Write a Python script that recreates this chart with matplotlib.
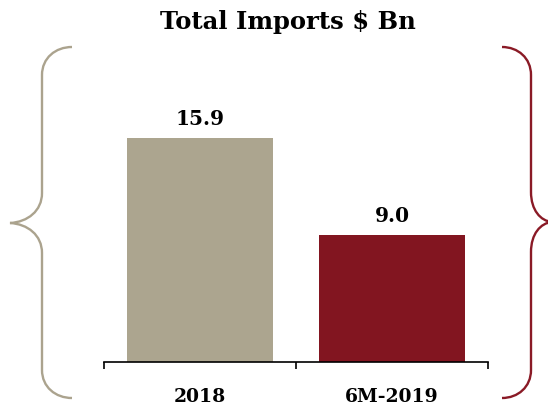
import matplotlib
matplotlib.use("Agg")
import matplotlib.pyplot as plt
from matplotlib.path import Path
from matplotlib.patches import PathPatch

categories = ["2018", "6M-2019"]
values = [15.9, 9.0]
value_labels = ["15.9", "9.0"]
title = "Total Imports $ Bn"

bar_colors = ["#ACA58F", "#821520"]
left_brace_color = "#ABA38E"
right_brace_color = "#8A1A26"

W, H = 548, 407
fig = plt.figure(figsize=(W / 100, H / 100), dpi=100)
fig.patch.set_facecolor("white")
plt.rcParams['font.family'] = ['DejaVu Serif']

ax = fig.add_axes([104 / W, (H - 362) / H, 384 / W, (362 - 40) / H])
x = list(range(len(categories)))
ax.bar(x, values, width=0.76, color=bar_colors, zorder=2)
for xi, v, lab in zip(x, values, value_labels):
    ax.annotate(lab, (xi, v), xytext=(0, 6.5), textcoords="offset points",
                ha="center", va="bottom", fontsize=14.5, fontweight="bold",
                color="black")
ax.set_xlim(-0.5, len(categories) - 0.5)
ax.set_ylim(0, 22.86)
for s in ["top", "right", "left"]:
    ax.spines[s].set_visible(False)
ax.spines["bottom"].set_linewidth(1.2)
ax.set_yticks([])
ax.set_xticks([i - 0.5 for i in range(len(categories) + 1)])
ax.set_xticklabels([])
ax.tick_params(axis="x", which="major", direction="out", length=4.7, width=1.2)
ax.set_xticks(x, minor=True)
ax.set_xticklabels(categories, minor=True, fontsize=13.5, fontweight="bold")
ax.tick_params(axis="x", which="minor", length=0, pad=19)

fig.text(288 / W, 1 - 22 / H, title, ha="center", va="center",
         fontsize=17.5, fontweight="bold")


def brace(x_end, x_vert, x_tip, y_top, y_mid, y_bot):
    d = x_vert - x_end
    t = x_tip - x_vert
    pts = [
        (x_end, y_top),
        (x_end + 0.55 * d, y_top), (x_vert, y_top + 11), (x_vert, y_top + 28),
        (x_vert, y_mid - 30),
        (x_vert, y_mid - 12), (x_vert + 0.45 * t, y_mid - 1), (x_tip, y_mid),
        (x_vert + 0.45 * t, y_mid + 1), (x_vert, y_mid + 12), (x_vert, y_mid + 30),
        (x_vert, y_bot - 28),
        (x_vert, y_bot - 11), (x_end + 0.55 * d, y_bot), (x_end, y_bot),
    ]
    codes = [Path.MOVETO,
             Path.CURVE4, Path.CURVE4, Path.CURVE4,
             Path.LINETO,
             Path.CURVE4, Path.CURVE4, Path.CURVE4,
             Path.CURVE4, Path.CURVE4, Path.CURVE4,
             Path.LINETO,
             Path.CURVE4, Path.CURVE4, Path.CURVE4]
    pts = [(px / W, 1 - py / H) for px, py in pts]
    return Path(pts, codes)


fig.add_artist(PathPatch(brace(72, 42, 10, 47, 223, 398), transform=fig.transFigure,
                         fill=False, edgecolor=left_brace_color, linewidth=1.7))
fig.add_artist(PathPatch(brace(502, 531, 552, 47, 222, 398), transform=fig.transFigure,
                         fill=False, edgecolor=right_brace_color, linewidth=1.7))

fig.savefig("out.png", dpi=100, facecolor="white")
